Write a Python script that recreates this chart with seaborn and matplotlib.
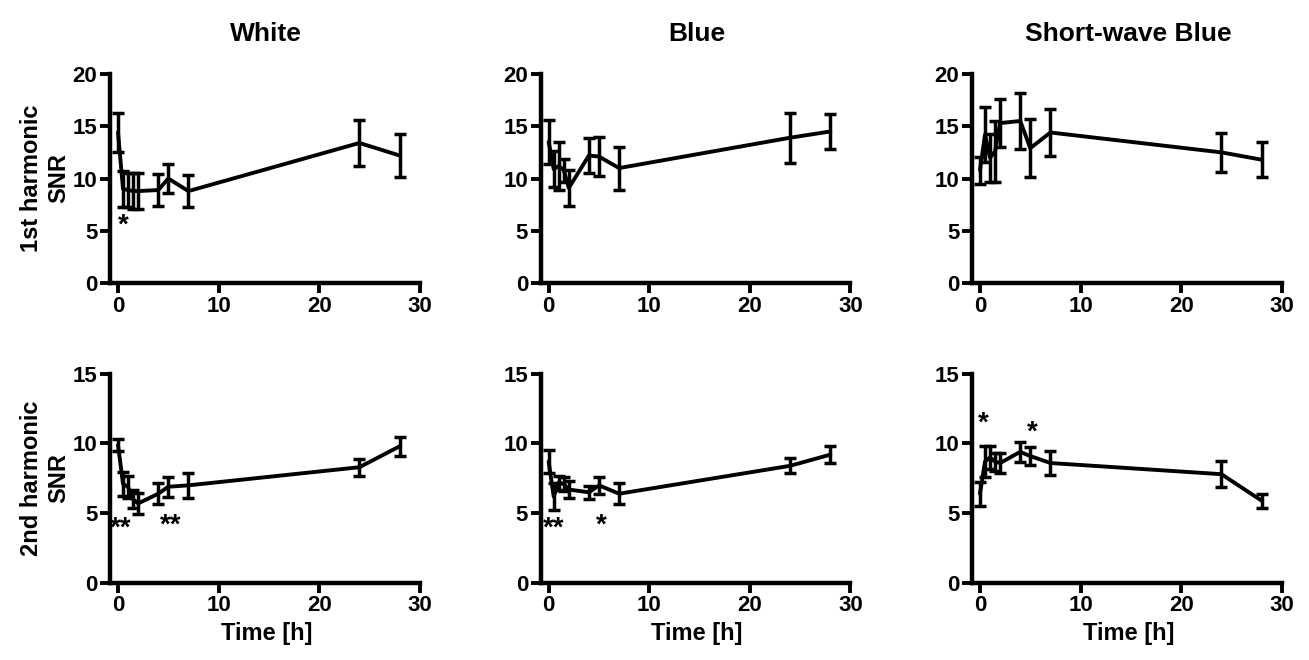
import matplotlib
matplotlib.use('Agg')
import matplotlib.pyplot as plt
import seaborn as sns
import pandas as pd

# Thời điểm đo (giờ)
time_h = [0, 0.5, 1, 1.5, 2, 4, 5, 7, 24, 28]

# 1st harmonic SNR (mean, SEM)
white_h1 = [14.4, 9.0, 8.9, 8.8, 8.8, 8.9, 10.0, 8.8, 13.4, 12.2]
white_h1_sem = [1.85, 1.7, 1.6, 1.7, 1.7, 1.5, 1.4, 1.5, 2.2, 2.05]
blue_h1 = [13.5, 10.9, 11.2, 10.8, 9.1, 12.2, 12.1, 11.0, 13.9, 14.5]
blue_h1_sem = [2.1, 1.7, 2.3, 1.1, 1.7, 1.7, 1.9, 2.05, 2.4, 1.7]
sw_h1 = [10.8, 14.2, 12.0, 12.6, 15.3, 15.5, 12.9, 14.4, 12.5, 11.8]
sw_h1_sem = [1.3, 2.6, 2.3, 2.9, 2.3, 2.7, 2.75, 2.25, 1.9, 1.7]

# 2nd harmonic SNR (mean, SEM)
white_h2 = [9.9, 7.1, 6.9, 6.0, 5.7, 6.4, 6.9, 7.0, 8.3, 9.8]
white_h2_sem = [0.45, 0.85, 0.8, 0.65, 0.75, 0.75, 0.7, 0.9, 0.6, 0.7]
blue_h2 = [8.7, 6.2, 7.2, 7.1, 6.7, 6.5, 7.0, 6.4, 8.4, 9.2]
blue_h2_sem = [0.8, 1.0, 0.5, 0.5, 0.6, 0.45, 0.6, 0.75, 0.55, 0.6]
sw_h2 = [6.4, 8.7, 9.0, 8.7, 8.6, 9.4, 9.1, 8.6, 7.8, 5.9]
sw_h2_sem = [0.85, 1.1, 0.85, 0.65, 0.75, 0.7, 0.65, 0.85, 0.95, 0.5]

conditions = ['White', 'Blue', 'Short-wave Blue']
row_labels = ['1st harmonic\nSNR', '2nd harmonic\nSNR']
means = [[white_h1, blue_h1, sw_h1], [white_h2, blue_h2, sw_h2]]
sems = [[white_h1_sem, blue_h1_sem, sw_h1_sem], [white_h2_sem, blue_h2_sem, sw_h2_sem]]
y_max = [20, 15]

# Dấu sao ý nghĩa thống kê: (hàng, cột, x, y, text)
stars = [(0, 0, 0.5, 5.5, '*'),
         (1, 0, 0.3, 3.9, '**'), (1, 0, 5.2, 4.1, '**'),
         (1, 1, 0.5, 3.9, '**'), (1, 1, 5.2, 4.1, '*'),
         (1, 2, 0.3, 11.4, '*'), (1, 2, 5.2, 10.8, '*')]

sns.set_style('ticks')
plt.rcParams['font.family'] = ['Liberation Sans', 'DejaVu Sans']
plt.rcParams['font.weight'] = 'bold'
for k in ['text.color', 'axes.labelcolor', 'xtick.color', 'ytick.color', 'axes.edgecolor']:
    plt.rcParams[k] = 'black'

fig = plt.figure(figsize=(13.09, 6.6), dpi=100)
lefts = [0.084, 0.413, 0.7425]
bottoms = [0.571, 0.1167]

for r in range(2):
    for c in range(3):
        ax = fig.add_axes([lefts[c], bottoms[r], 0.239, 0.317])
        df = pd.DataFrame({'t': time_h, 'snr': means[r][c]})
        sns.lineplot(data=df, x='t', y='snr', ax=ax, color='black', linewidth=2.8)
        ax.errorbar(time_h, means[r][c], yerr=sems[r][c], fmt='none', ecolor='black',
                    elinewidth=2.5, capsize=4.5, capthick=2.5)
        ax.set_xlim(-0.8, 30.3)
        ax.set_ylim(0, y_max[r])
        ax.set_xticks([0, 10, 20, 30])
        ax.set_yticks(range(0, y_max[r] + 1, 5))
        sns.despine(ax=ax)
        for s in ['left', 'bottom']:
            ax.spines[s].set_linewidth(3.2)
        ax.spines['bottom'].set_bounds(-0.8, 30)
        ax.tick_params(width=2.8, length=7, labelsize=16, pad=2)
        for lab in ax.get_xticklabels() + ax.get_yticklabels():
            lab.set_fontweight('bold')
        ax.set_xlabel('Time [h]' if r == 1 else '', fontsize=17, fontweight='bold', labelpad=4)
        ax.set_ylabel(row_labels[r] if c == 0 else '', fontsize=17, fontweight='bold', labelpad=2)
        if r == 0:
            ax.set_title(conditions[c], fontsize=19, fontweight='bold', pad=24)
        for (sr, sc, sx, sy, txt) in stars:
            if sr == r and sc == c:
                ax.text(sx, sy, txt, ha='center', va='center', fontsize=20, fontweight='bold')

plt.savefig('out.png', dpi=100)
